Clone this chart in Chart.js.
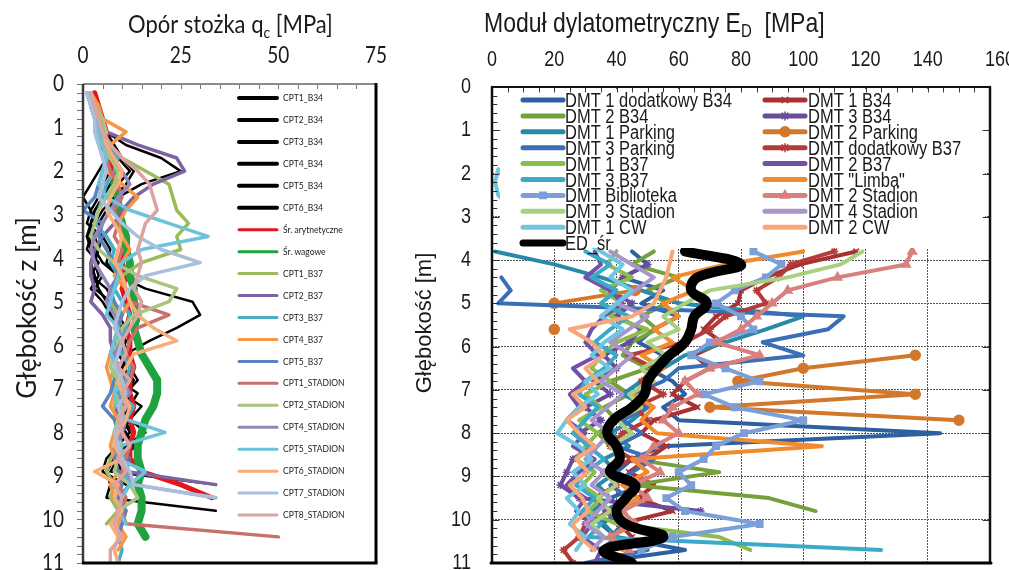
<!DOCTYPE html>
<html><head><meta charset="utf-8">
<script src="https://cdn.jsdelivr.net/npm/chart.js@4.4.1/dist/chart.umd.min.js"></script>
<style>
html,body{margin:0;padding:0;background:#fff;}
#wrap{position:relative;width:1009px;height:570px;overflow:hidden;background:#fff;}
canvas{position:absolute;top:0;}
#cL{left:0;} #cR{left:400px;}
</style></head><body>
<div id="wrap"><canvas id="cL" width="400" height="570"></canvas><canvas id="cR" width="609" height="570"></canvas></div>
<script>
// ---------------- LEFT CHART DATA (CPT, q_c [MPa] vs depth z [m]) ----------------
const Z_L = [0.2,0.5,0.8,1.1,1.4,1.7,2.0,2.3,2.6,2.9,3.2,3.5,3.8,4.1,4.4,4.7,5.0,5.3,5.6,5.9,6.2,6.5,6.8,7.1,7.4,7.7,8.0,8.3,8.6,8.9,9.2,9.5,9.8,10.1,10.4,10.7,11.0];
const X_TICKS_L = [0,25,50,75];
const Y_TICKS = [0,1,2,3,4,5,6,7,8,9,10,11];

const CPT1_B34 = [2,3,4,6,11,20,25,15,9,6,4,5,7,6,9,8,10,9,11,10,12,10,13,11,9,12,10,14,9,7,34];
const CPT2_B34 = [1,2,3,4,6,9,12,9,6,3,2,1,3,5,9,16,28,30,24,17,11,9,11,12,10,8,11,13,8,6,7,6,34];
const CPT3_B34 = [2,2,3,4,5,6,4,2,0,2,1,5,4,3,5,3,7,9,8,10,12,11,9,14,12,10,13,11,10,9,12];
const CPT4_B34 = [3,4,5,6,8,10,13,11,8,5,3,2,1,4,2,6,8,7,10,9,11,13,12,10,15,12,16,11,8,10];
const CPT5_B34 = [1,2,3,3,4,7,9,7,5,3,2,3,4,2,3,4,6,8,10,8,9,11,10,12,9,11,9,10,12,8];
const CPT6_B34 = [2,3,3,5,7,8,7,5,4,2,3,1,2,3,4,2,5,7,9,11,10,12,14,11,13,10,12,9,6,5,11];
const SR_ARYT = [3,4,5,6,6,7,8,8,9,9,10,10,11,10,11,10,11,12,11,12,12,13,12,12,13,12,13,12,12,15,25,33];
const SR_WAG = [null,null,null,null,null,null,null,8,9,9,10,11,11,12,12,13,13,14,13,14,15,17,19,19,18,16,15,14,14,15,14,15,15,14,16];
const CPT1_B37 = [2,3,4,5,7,10,16,22,23,24,27,24,25,15,10,8,7,9,8,10,9,8,7,9,8,10,8,9,7,6,8,7,9,6];
const CPT2_B37 = [2,3,4,6,14,24,26,18,13,10,8,5,3,2,2,3,2,5,7,7,8,9,11,10,9,8,10,9,12,11,34];
const CPT3_B37 = [2,2,3,5,7,9,8,6,5,4,3,6,8,7,9,8,10,12,11,9,10,12,11,9,13,11,10,9,11,10,12,9,11,10,9,10,9];
const CPT4_B37 = [2,4,5,11,7,6,6,10,14,11,9,10,12,10,8,11,12,10,9,8,7,6,7,8,7,9,8,7,8,9,7,8,10,9,11,9];
const CPT5_B37 = [2,3,3,4,5,6,5,4,3,0,5,4,6,8,9,7,8,10,9,8,7,9,8,7,5,8,9,10,8,9,10,9,11,10,9];
const CPT1_STADION = [1,2,3,4,5,6,7,9,10,8,9,8,10,9,10,11,12,22,14,12,11,13,12,10,11,9,10,12,11,10,9,11,10,11,50];
const CPT2_STADION = [2,3,5,6,5,7,9,8,6,4,3,2,4,8,14,24,22,13,10,9,8,7,9,8,10,9,8,10,9,8,12,14,9,8];
const CPT4_STADION = [1,3,4,5,6,8,10,12,9,7,5,3,2,3,5,7,6,8,9,10,8,9,10,12,9,11,10,8,9,11,13,34];
const CPT5_STADION = [1,2,3,4,5,6,5,4,6,12,22,32,15,10,9,8,7,6,9,8,7,9,10,8,9,11,21,10,9,16,12,10,9,11];
const CPT6_STADION = [2,3,4,5,6,8,10,9,7,6,8,10,9,8,10,11,12,14,18,24,13,11,9,10,12,11,9,8,10,3,9,8,10,7,9,8,9];
const CPT7_STADION = [1,2,3,3,4,5,6,5,4,7,10,14,20,30,16,12,10,9,8,10,9,8,10,11,9,10,8,9,10,12,13,34];
const CPT8_STADION = [2,3,4,5,7,10,14,17,18,19,16,15,14,15,14,13,15,14,12,10,11,9,12,10,11,9,10,12,9,11,8,10,9,8,10,7,7];

const L_LABELS = ['CPT1_B34','CPT2_B34','CPT3_B34','CPT4_B34','CPT5_B34','CPT6_B34','Śr. arytnetyczne','Śr. wagowe','CPT1_B37','CPT2_B37','CPT3_B37','CPT4_B37','CPT5_B37','CPT1_STADION','CPT2_STADION','CPT4_STADION','CPT5_STADION','CPT6_STADION','CPT7_STADION','CPT8_STADION'];
const L_SERIES = [CPT1_B34,CPT2_B34,CPT3_B34,CPT4_B34,CPT5_B34,CPT6_B34,SR_ARYT,SR_WAG,CPT1_B37,CPT2_B37,CPT3_B37,CPT4_B37,CPT5_B37,CPT1_STADION,CPT2_STADION,CPT4_STADION,CPT5_STADION,CPT6_STADION,CPT7_STADION,CPT8_STADION];

// ---------------- RIGHT CHART DATA (DMT, E_D [MPa] vs depth [m]) ----------------
const Z_R = [3.8,4.1,4.4,4.7,5.0,5.3,5.6,5.9,6.2,6.5,6.8,7.1,7.4,7.7,8.0,8.3,8.6,8.9,9.2,9.5,9.8,10.1,10.4,10.7,11.0];
const Z_CW = [1.9,2.2,2.5,2.8,3.2,3.5,3.8,4.1,4.4,4.7,5.0,5.3,5.6,5.9,6.2,6.5,6.8,7.1,7.4,7.7,8.0,8.3,8.6,8.9,9.2,9.5,9.8,10.1,10.4,10.7];
const X_TICKS_R = [0,20,40,60,80,100,120,140,160];

const DMT1_DOD_B34 = [45,50,42,55,48,60,52,47,55,50,58,62,55,60,144,55,45,40,48,38,42,35,40,62,32];
const DMT1_B34 = [117,99,88,80,79,72,68,74,65,70,62,58,66,52,48,56,50,44,52,47,58,41,45];
const DMT2_B34 = [52,45,60,50,56,48,53,45,42,50,38,44,36,40,34,38,45,73,45,89,104];
const DMT3_B34 = [null,50,42,38,45,40,48,44,36,40,33,38,30,35,28,32,26,24,22,28,67];
const DMT1_PARKING = [1,20,35,48,60,100,88,75,62,55,48,42,50,45,38,44,36,40,34,38,32,36,40,35];
const DMT2_PARKING = [null,null,null,46,20,null,20,null,136,100,79,136,70,150];
const DMT3_PARKING = [null,null,3,6,2,113,108,87,100,60,55,45,50,42,48,40,52,45,38,44,36,42,38,50,30];
const DMT_DOD_B37 = [110,96,92,85,88,75,70,62,44,52,48,55,46,50,42,38,45,36,40,33,38,30,28,23,26];
const DMT1_B37 = [40,37,45,35,42,38,50,40,35,32,38,30,35,28,34,30,27,33,29,35,31,40,73,83];
const DMT2_B37 = [33,35,30,38,42,36,32,30,34,26,30,25,28,24,30,26,33,28,24,30,27,32,29,35,33];
const DMT3_B37 = [30,38,32,40,35,44,38,33,40,36,30,28,34,30,26,31,36,30,27,33,29,35,31,125];
const DMT_LIMBA = [100,75,58,65,55,60,52,58,48,55,50,45,52,48,53,106,45,50,42,47,40,44,38,42];
const DMT_BIBLIOTEKA = [84,93,88,78,72,80,84,70,64,75,86,68,78,100,81,72,68,60,64,56,62,86,58,48];
const DMT2_STADION = [135,133,111,95,90,85,80,72,86,70,62,66,58,55,60,52,48,54,45,50,42,46,38,44];
const DMT3_STADION = [119,112,95,70,62,55,60,50,56,48,52,44,48,40,45,38,42,36,40,34,38,32,36];
const DMT4_STADION = [38,45,52,46,40,50,44,38,45,40,35,42,37,32,38,34,30,36,32,38,34,30,36,32];
const DMT1_CW = [2,1,2,6,15,28,35,42,38,45,40,35,42,36,32,38,30,34,28,24,21,28,32,26,30,24,28,25,30,27];
const DMT2_CW = [58,57,56,54,52,45,25,32,36,30,34,26,30,24,28,33,27,31,25,29,31,26,28,33];
const ED_SR = [62,80,66,64,69,65,64,62,57,53,50,49,45,39,37,40,41,38,46,43,40,43,55,36,45];

const R_LABELS = ['DMT 1 dodatkowy B34','DMT 1 B34','DMT 2 B34','DMT 3 B34','DMT 1 Parking','DMT 2 Parking','DMT 3 Parking','DMT dodatkowy B37','DMT 1 B37','DMT 2 B37','DMT 3 B37','DMT "Limba"','DMT Biblioteka','DMT 2 Stadion','DMT 3 Stadion','DMT 4 Stadion','DMT 1 CW','DMT 2 CW','ED_śr'];
const R_SERIES = [DMT1_DOD_B34,DMT1_B34,DMT2_B34,DMT3_B34,DMT1_PARKING,DMT2_PARKING,DMT3_PARKING,DMT_DOD_B37,DMT1_B37,DMT2_B37,DMT3_B37,DMT_LIMBA,DMT_BIBLIOTEKA,DMT2_STADION,DMT3_STADION,DMT4_STADION,DMT1_CW,DMT2_CW,ED_SR];
const R_DEPTHS = [Z_R,Z_R,Z_R,Z_R,Z_R,Z_R,Z_R,Z_R,Z_R,Z_R,Z_R,Z_R,Z_R,Z_R,Z_R,Z_R,Z_CW,Z_R,Z_R];

// ---------------- styles ----------------
const L_COLORS = ['#000','#000','#000','#000','#000','#000','#e3161c','#1fa33f','#9bbb59','#7f62a1','#4bacc6','#f79646','#5b83c0','#c7706c','#a9c47f','#9486b8','#6ec2dc','#f9ad78','#a9c0dd','#dba3a2'];
const L_WIDTHS = [2.5,2.5,2.5,2.5,2.5,2.5,5,8,3.5,3.5,3.5,3.5,3.5,3.5,3.5,3.5,3.5,3.5,3.5,3.5];
const R_COLORS = ['#2e5f9e','#a83232','#76a03a','#6a4c9c','#2a88a8','#d2782c','#3a6fb8','#b53a3a','#8cbc4c','#7451a8','#3aaac6','#f08b2e','#7b9fd8','#d9807e','#a8d080','#a994cc','#6fc6e0','#f8a878','#000'];
const R_POINT = [null,'crossRot',null,'star',null,'circle',null,'star',null,null,null,null,'rect','triangle',null,null,null,null,null];
const R_RAD =   [0,4,0,4,0,5,0,4,0,0,0,0,4.5,5,0,0,0,0,0];
const TXT = '#1a1a1a';
const ARIAL = '"Liberation Sans", Arial, sans-serif';
const LATO = 'Lato, "Open Sans", sans-serif';
const AREA_L = {l:83, t:84, r:376, b:563};
const AREA_R = {l:92, t:87, r:590, b:563};

function pts(zs, vs){ return vs.map((v,i)=>({x:v, y:zs[i]})); }
function line(ctx,x1,y1,x2,y2,c,w){ ctx.beginPath(); ctx.strokeStyle=c; ctx.lineWidth=w; ctx.moveTo(x1,y1); ctx.lineTo(x2,y2); ctx.stroke(); }
function drawParts(ctx,x,y,parts){ let cx=x; for(const p of parts){ ctx.font=p.f; ctx.fillText(p.t,cx,y+(p.dy||0)); cx+=ctx.measureText(p.t).width; } }
function tallText(ctx,t,x,y,font,align,sy){ ctx.save(); ctx.translate(x,y); ctx.scale(1,sy); ctx.font=font; ctx.textAlign=align; ctx.textBaseline='middle'; ctx.fillText(t,0,0); ctx.restore(); }

// force the plot area to fixed pixel bounds, then let the scales re-map
function forceArea(A){
  return { id:'forceArea', afterLayout(chart){
    const ca = chart.chartArea;
    ca.left=A.l; ca.top=A.t; ca.right=A.r; ca.bottom=A.b; ca.width=A.r-A.l; ca.height=A.b-A.t;
    const {x,y} = chart.scales;
    x.left=A.l; x.right=A.r; x.width=A.r-A.l; x.top=0; x.bottom=A.t; x.height=A.t;
    y.top=A.t; y.bottom=A.b; y.height=A.b-A.t; y.left=0; y.right=A.l; y.width=A.l;
    x.configure(); y.configure();
  }};
}

function scalesCfg(xmax, xticks, grid){
  const g = grid ? {display:true, color:'#555', lineWidth:1, drawTicks:false} : {display:false};
  return {
    x:{type:'linear', position:'top', min:0, max:xmax,
       afterBuildTicks(s){ s.ticks = xticks.map(v=>({value:v})); },
       ticks:{display:false}, grid:g, border:{display:false, dash:[2,1]}},
    y:{type:'linear', reverse:true, min:0, max:11,
       afterBuildTicks(s){ s.ticks = Y_TICKS.map(v=>({value:v})); },
       ticks:{display:false}, grid:g, border:{display:false, dash:[2,1]}}
  };
}

// ---------------- LEFT CHART ----------------
const leftDecor = {
  id:'leftDecor',
  afterDraw(chart){
    const {ctx, chartArea:a, scales:{x,y}} = chart;
    ctx.save();
    ctx.strokeStyle='#777'; ctx.lineWidth=1; ctx.beginPath();
    for(let v=0; v<=75; v+=5){ const px=Math.round(x.getPixelForValue(v))+0.5; ctx.moveTo(px,a.top); ctx.lineTo(px,a.top+5); }
    for(let k=0;k<=55;k++){ const py=Math.round(y.getPixelForValue(k/5))+0.5; ctx.moveTo(a.left-6,py); ctx.lineTo(a.left+1,py); }
    ctx.stroke();
    line(ctx,a.left,a.top,a.right,a.top,'#8a8a8a',2);
    line(ctx,a.left,a.top,a.left,a.bottom,'#3a3a3a',2.5);
    line(ctx,a.right,a.top-1,a.right,a.bottom,'#000',3);
    line(ctx,a.left-1,a.bottom,a.right+1.5,a.bottom,'#000',3);
    // tick labels
    ctx.fillStyle=TXT;
    X_TICKS_L.forEach(v=>tallText(ctx,String(v),x.getPixelForValue(v),56,'19px '+LATO,'center',1.2));
    Y_TICKS.forEach(v=>tallText(ctx,String(v),64,y.getPixelForValue(v),'19px '+LATO,'right',1.2));
    // legend
    ctx.textAlign='left'; ctx.textBaseline='middle';
    chart.data.datasets.forEach((ds,i)=>{
      const cy = 98 + i*21.95;
      ctx.lineCap='round';
      line(ctx,239,cy,277,cy,ds.borderColor, i<6?4:3);
      ctx.fillStyle=TXT; tallText(ctx,ds.label,283,cy,'8.5px '+LATO,'left',1.15);
    });
    // titles
    ctx.fillStyle=TXT; ctx.textBaseline='alphabetic'; ctx.textAlign='left';
    ctx.save(); ctx.translate(128,33); ctx.scale(1,1.15);
    drawParts(ctx,0,0,[{t:'Opór stożka q',f:'22px '+LATO},{t:'c',f:'14px '+LATO,dy:4},{t:' [MPa]',f:'22px '+LATO}]);
    ctx.restore();
    ctx.translate(28,308); ctx.rotate(-Math.PI/2); ctx.textAlign='center'; ctx.textBaseline='middle';
    ctx.font='26px '+LATO; ctx.fillText('Głębokość z [m]',0,0);
    ctx.restore();
  }
};

new Chart(document.getElementById('cL'), {
  type:'scatter',
  data:{ datasets: L_SERIES.map((s,i)=>({
    label:L_LABELS[i], data:pts(Z_L,s), borderColor:L_COLORS[i], backgroundColor:L_COLORS[i],
    borderWidth:L_WIDTHS[i], showLine:true, pointRadius:0, pointHoverRadius:0, tension:0,
    borderJoinStyle:'round', borderCapStyle:'round', order:L_SERIES.length-i, spanGaps:false
  }))},
  options:{
    responsive:false, animation:false, devicePixelRatio:1,
    plugins:{legend:{display:false}, tooltip:{enabled:false}},
    scales: scalesCfg(75, X_TICKS_L, false)
  },
  plugins:[forceArea(AREA_L), leftDecor]
});

// ---------------- RIGHT CHART ----------------
const rightDecor = {
  id:'rightDecor',
  afterDraw(chart){
    const {ctx, chartArea:a, scales:{x,y}} = chart;
    ctx.save();
    // legend box
    ctx.fillStyle='#fff'; ctx.fillRect(100,89,485,159);
    chart.data.datasets.forEach((ds,i)=>{
      const r=Math.floor(i/2), c=i%2;
      const cy = 100 + r*15.9;
      const x0 = c===0?123:365, x1 = c===0?163:405, tx = c===0?165:408;
      ctx.lineCap='round';
      line(ctx,x0,cy,x1,cy,ds.borderColor, i===18?7:5);
      if (ds.pointStyle && ds.pointRadius>0){
        ctx.fillStyle=ds.borderColor; ctx.strokeStyle=ds.borderColor; ctx.lineWidth=1.5;
        Chart.helpers.drawPoint(ctx,{pointStyle:ds.pointStyle,radius:ds.pointRadius,borderWidth:1.5,rotation:0},(x0+x1)/2,cy);
      }
      ctx.save(); ctx.translate(tx,cy+7); ctx.scale(1,1.2);
      ctx.fillStyle=TXT; ctx.font='16.5px '+ARIAL; ctx.textAlign='left'; ctx.textBaseline='alphabetic';
      ctx.fillText(ds.label,0,0); ctx.restore();
    });
    // ticks
    ctx.strokeStyle='#333'; ctx.lineWidth=1; ctx.beginPath();
    for(let v=0; v<=160; v+=5){ const px=Math.round(x.getPixelForValue(v))+0.5; ctx.moveTo(px,a.top); ctx.lineTo(px,a.top+5); }
    for(let k=0;k<=55;k++){ const py=Math.round(y.getPixelForValue(k/5))+0.5; const L=(k%5===0)?7:5; ctx.moveTo(a.left,py); ctx.lineTo(a.left+L,py); }
    for(let k=0;k<=11;k++){ const py=Math.round(y.getPixelForValue(k))+0.5; ctx.moveTo(a.right,py); ctx.lineTo(a.right-7,py); }
    ctx.stroke();
    // frame
    line(ctx,a.left,a.top,a.right,a.top,'#111',2);
    line(ctx,a.left,a.top,a.left,a.bottom,'#111',2.5);
    line(ctx,a.right,a.top,a.right,a.bottom,'#111',2.5);
    line(ctx,a.left-1,a.bottom,a.right+1,a.bottom,'#000',3);
    // tick labels
    ctx.fillStyle=TXT;
    X_TICKS_R.forEach(v=>tallText(ctx,String(v),x.getPixelForValue(v)+(v===160?10:0),60,'18px '+ARIAL,'center',1.2));
    Y_TICKS.forEach(v=>tallText(ctx,String(v),71,y.getPixelForValue(v),'18px '+ARIAL,'right',1.2));
    // titles
    ctx.fillStyle=TXT; ctx.textAlign='left'; ctx.textBaseline='alphabetic';
    ctx.save(); ctx.translate(84,32); ctx.scale(1,1.2);
    drawParts(ctx,0,0,[{t:'Moduł dylatometryczny E',f:'23px '+ARIAL},{t:'D',f:'15px '+ARIAL,dy:4},{t:'  [MPa]',f:'23px '+ARIAL}]);
    ctx.restore();
    ctx.translate(25,323); ctx.rotate(-Math.PI/2); ctx.textAlign='center'; ctx.textBaseline='middle';
    ctx.font='22px '+ARIAL; ctx.fillText('Głębokość [m]',0,0);
    ctx.restore();
  }
};

new Chart(document.getElementById('cR'), {
  type:'scatter',
  data:{ datasets: R_SERIES.map((s,i)=>({
    label:R_LABELS[i], data:pts(R_DEPTHS[i],s), borderColor:R_COLORS[i], backgroundColor:R_COLORS[i],
    pointBorderColor:R_COLORS[i], pointBackgroundColor:R_COLORS[i],
    borderWidth: i===18?10:4, showLine:true,
    pointStyle: R_POINT[i]||'circle', pointRadius:R_RAD[i], pointHoverRadius:0, pointBorderWidth:1.5,
    tension: i===18?0.4:0, borderJoinStyle:'round', borderCapStyle:'round',
    order:R_SERIES.length-i, spanGaps:false
  }))},
  options:{
    responsive:false, animation:false, devicePixelRatio:1,
    plugins:{legend:{display:false}, tooltip:{enabled:false}},
    scales: scalesCfg(160, X_TICKS_R, true)
  },
  plugins:[forceArea(AREA_R), rightDecor]
});
</script>
</body></html>
